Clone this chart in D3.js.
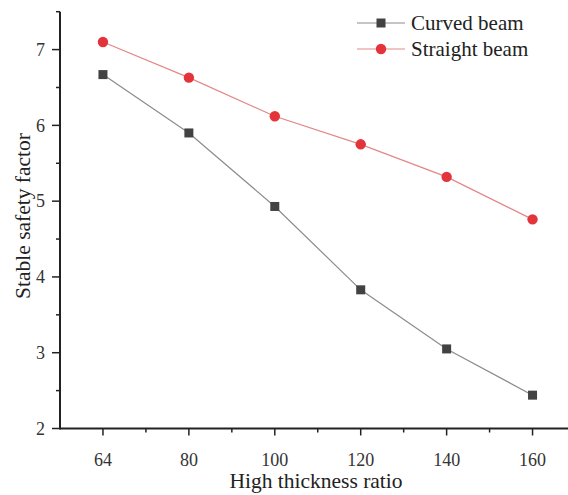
<!DOCTYPE html>
<html>
<head>
<meta charset="utf-8">
<script src="https://cdn.jsdelivr.net/npm/d3@7"></script>
<style>
  body { margin: 0; background: #fff; }
  svg { display: block; font-family: "Liberation Serif", "Times New Roman", serif; }
</style>
</head>
<body>
<svg id="chart"></svg>
<script>
const width = 568;
const height = 495;

// data
const ratios = ["64", "80", "100", "120", "140", "160"];
const curved = [6.67, 5.90, 4.93, 3.83, 3.05, 2.44];
const straight = [7.10, 6.63, 6.12, 5.75, 5.32, 4.76];
const yTicks = [2, 3, 4, 5, 6, 7];
const yMinor = [2.5, 3.5, 4.5, 5.5, 6.5, 7.5];

const svg = d3.select("#chart")
    .attr("width", width)
    .attr("height", height);

const x = d3.scalePoint()
    .domain(ratios)
    .range([60, 575.5])
    .padding(0.5);

const y = d3.scaleLinear()
    .domain([2, 7.5])
    .range([428.5, 11.7]);

const axisColor = "#222";

// x axis
const xAxis = svg.append("g").attr("transform", `translate(0,${y(2)})`);
xAxis.append("line")
    .attr("x1", 60).attr("x2", width)
    .attr("stroke", axisColor).attr("stroke-width", 2);
xAxis.selectAll(".xt").data(ratios).enter().append("line")
    .attr("x1", d => x(d)).attr("x2", d => x(d))
    .attr("y1", 0).attr("y2", 7)
    .attr("stroke", axisColor).attr("stroke-width", 1.5);
// minor ticks halfway between categories
const mids = ratios.slice(1).map((d, i) => (x(d) + x(ratios[i])) / 2);
xAxis.selectAll(".xm").data(mids).enter().append("line")
    .attr("x1", d => d).attr("x2", d => d)
    .attr("y1", 0).attr("y2", 4)
    .attr("stroke", axisColor).attr("stroke-width", 1.5);
xAxis.selectAll(".xl").data(ratios).enter().append("text")
    .attr("x", d => x(d)).attr("y", 37)
    .attr("text-anchor", "middle")
    .attr("font-size", 18).attr("fill", "#333")
    .text(d => d);

// y axis
const yAxis = svg.append("g").attr("transform", "translate(60,0)");
yAxis.append("line")
    .attr("y1", y(7.5)).attr("y2", y(2) + 1)
    .attr("stroke", axisColor).attr("stroke-width", 2);
yAxis.selectAll(".yt").data(yTicks).enter().append("line")
    .attr("x1", -8).attr("x2", 0)
    .attr("y1", d => y(d)).attr("y2", d => y(d))
    .attr("stroke", axisColor).attr("stroke-width", 1.5);
yAxis.selectAll(".ym").data(yMinor).enter().append("line")
    .attr("x1", -4).attr("x2", 0)
    .attr("y1", d => y(d)).attr("y2", d => y(d))
    .attr("stroke", axisColor).attr("stroke-width", 1.5);
yAxis.selectAll(".yl").data(yTicks).enter().append("text")
    .attr("x", -15).attr("y", d => y(d))
    .attr("dy", "0.35em")
    .attr("text-anchor", "end")
    .attr("font-size", 18).attr("fill", "#333")
    .text(d => d);

// axis titles
svg.append("text")
    .attr("x", 316).attr("y", 488)
    .attr("text-anchor", "middle")
    .attr("font-size", 21.5).attr("fill", "#222")
    .text("High thickness ratio");

svg.append("text")
    .attr("transform", "translate(30,216) rotate(-90)")
    .attr("text-anchor", "middle")
    .attr("font-size", 21.5).attr("fill", "#222")
    .text("Stable safety factor");

// series
const line = d3.line()
    .x((d, i) => x(ratios[i]))
    .y(d => y(d));

svg.append("path").datum(curved)
    .attr("d", line)
    .attr("fill", "none").attr("stroke", "#8c8c8c").attr("stroke-width", 1.2);
svg.append("path").datum(straight)
    .attr("d", line)
    .attr("fill", "none").attr("stroke", "#e38787").attr("stroke-width", 1.2);

svg.selectAll(".sq").data(curved).enter().append("rect")
    .attr("x", (d, i) => x(ratios[i]) - 4.5)
    .attr("y", d => y(d) - 4.5)
    .attr("width", 9).attr("height", 9)
    .attr("fill", "#424242");

svg.selectAll(".dot").data(straight).enter().append("circle")
    .attr("cx", (d, i) => x(ratios[i]))
    .attr("cy", d => y(d))
    .attr("r", 5.2)
    .attr("fill", "#e3333b");

// legend
const legend = svg.append("g");
const items = [
    { name: "Curved beam", color: "#8c8c8c", mark: "#424242", shape: "square", y: 23 },
    { name: "Straight beam", color: "#e38787", mark: "#e3333b", shape: "circle", y: 49 }
];
items.forEach(it => {
    legend.append("line")
        .attr("x1", 357).attr("x2", 405)
        .attr("y1", it.y).attr("y2", it.y)
        .attr("stroke", it.color).attr("stroke-width", 1.2);
    if (it.shape === "square") {
        legend.append("rect")
            .attr("x", 381 - 4.5).attr("y", it.y - 4.5)
            .attr("width", 9).attr("height", 9)
            .attr("fill", it.mark);
    } else {
        legend.append("circle")
            .attr("cx", 381).attr("cy", it.y).attr("r", 5.2)
            .attr("fill", it.mark);
    }
    legend.append("text")
        .attr("x", 411).attr("y", it.y)
        .attr("dy", "0.33em")
        .attr("font-size", 21).attr("fill", "#222")
        .text(it.name);
});
</script>
</body>
</html>
